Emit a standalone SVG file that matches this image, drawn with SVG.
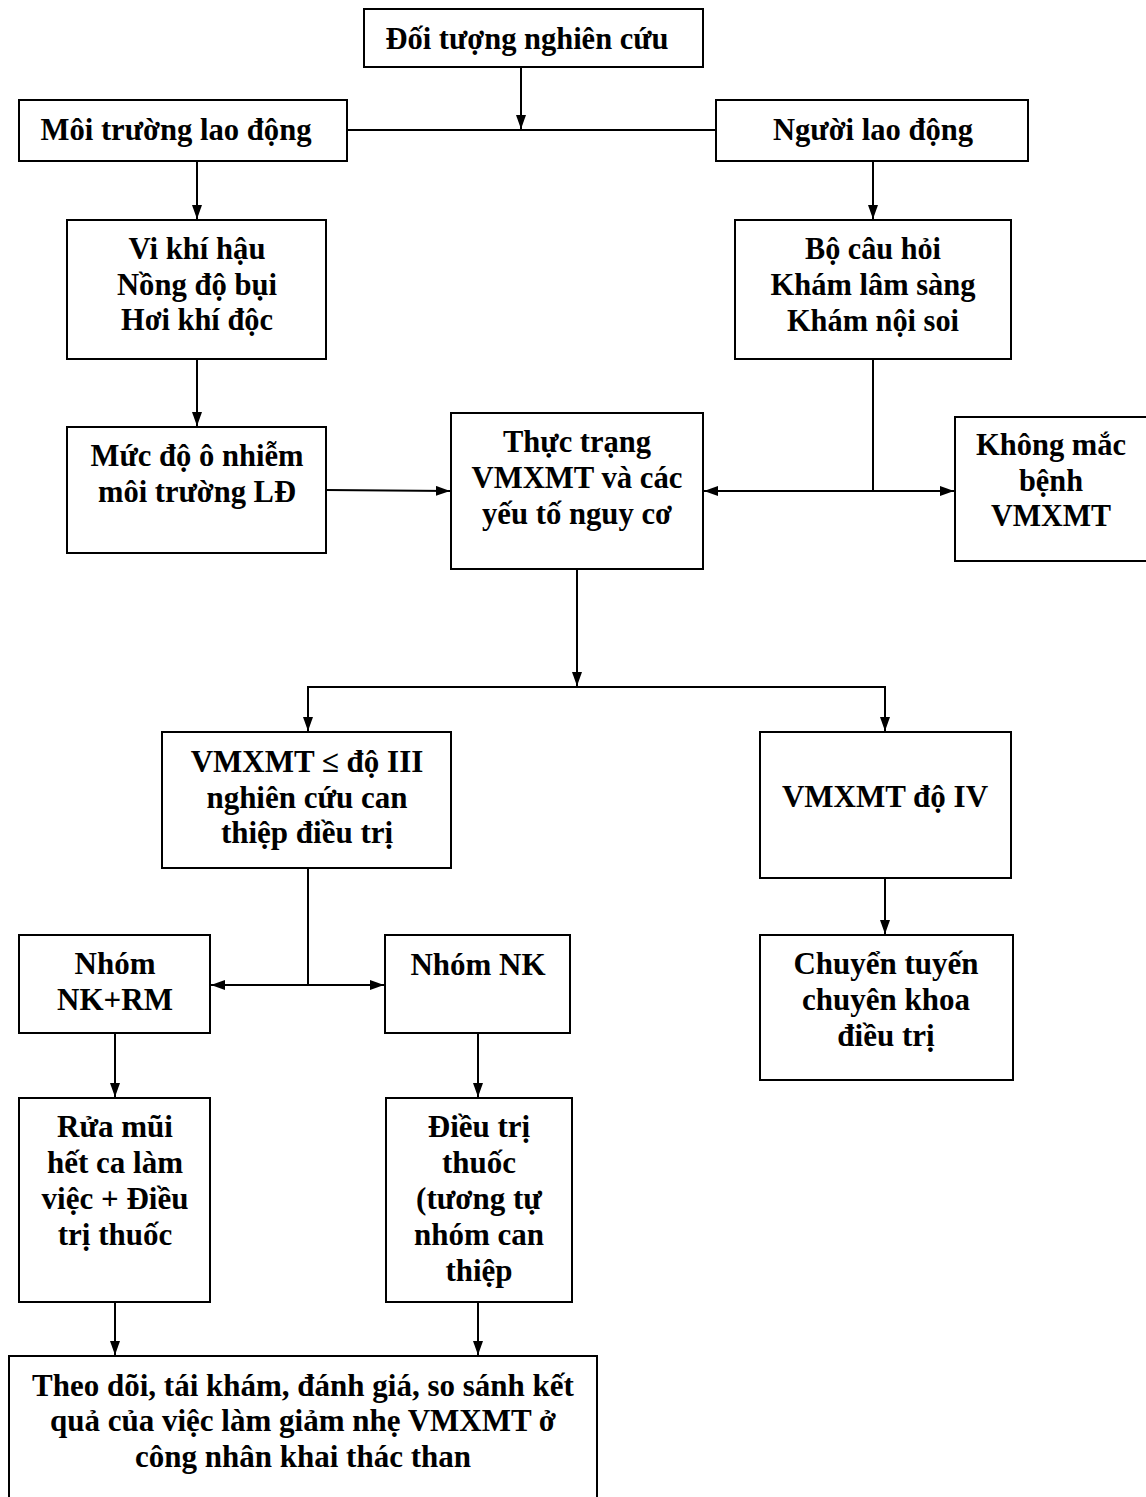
<svg xmlns="http://www.w3.org/2000/svg" width="1146" height="1497" viewBox="0 0 1146 1497">
<defs>
<marker id="ah" viewBox="0 0 14 10" refX="14" refY="5" markerWidth="14" markerHeight="10" markerUnits="userSpaceOnUse" orient="auto">
<path d="M0,0 L14,5 L0,10 z" fill="#000"/>
</marker>
<style>
rect{fill:#fff;stroke:#000;stroke-width:2}
text{font-family:"Liberation Serif","Times New Roman",serif;font-weight:bold;font-size:31px;text-anchor:middle;fill:#000}
.c{font-size:31px}
#connectors line,#connectors path{stroke:#000;stroke-width:2;fill:none}
</style>
</defs>
<rect x="0" y="0" width="1146" height="1497" style="fill:#fff;stroke:none"/>
<g id="connectors">
<line x1="347" y1="130" x2="716" y2="130"/>
<line x1="521" y1="67" x2="521" y2="129" marker-end="url(#ah)"/>
<line x1="197" y1="161" x2="197" y2="219" marker-end="url(#ah)"/>
<line x1="873" y1="161" x2="873" y2="219" marker-end="url(#ah)"/>
<line x1="197" y1="359" x2="197" y2="426" marker-end="url(#ah)"/>
<line x1="326" y1="490" x2="450" y2="491" marker-end="url(#ah)"/>
<line x1="873" y1="359" x2="873" y2="491"/>
<line x1="873" y1="491" x2="704" y2="491" marker-end="url(#ah)"/>
<line x1="873" y1="491" x2="954" y2="491" marker-end="url(#ah)"/>
<line x1="577" y1="569" x2="577" y2="686" marker-end="url(#ah)"/>
<path d="M308,700 L308,687 L885,687 L885,700"/>
<line x1="308" y1="699" x2="308" y2="731" marker-end="url(#ah)"/>
<line x1="885" y1="699" x2="885" y2="731" marker-end="url(#ah)"/>
<line x1="308" y1="868" x2="308" y2="985"/>
<line x1="308" y1="985" x2="211" y2="985" marker-end="url(#ah)"/>
<line x1="308" y1="985" x2="384" y2="985" marker-end="url(#ah)"/>
<line x1="885" y1="878" x2="885" y2="934" marker-end="url(#ah)"/>
<line x1="115" y1="1033" x2="115" y2="1097" marker-end="url(#ah)"/>
<line x1="478" y1="1033" x2="478" y2="1097" marker-end="url(#ah)"/>
<line x1="115" y1="1302" x2="115" y2="1355" marker-end="url(#ah)"/>
<line x1="478" y1="1302" x2="478" y2="1355" marker-end="url(#ah)"/>
</g>
<g id="n1"><rect x="364" y="9" width="339" height="58"/><text class="c" x="527" y="49" textLength="283" lengthAdjust="spacingAndGlyphs">Đối tượng nghiên cứu</text></g>
<g id="n2"><rect x="19" y="100" width="328" height="61"/><text class="c" x="176" y="140" textLength="271" lengthAdjust="spacingAndGlyphs">Môi trường lao động</text></g>
<g id="n3"><rect x="716" y="100" width="312" height="61"/><text class="c" x="873" y="140" textLength="200" lengthAdjust="spacingAndGlyphs">Người lao động</text></g>
<g id="n4"><rect x="67" y="220" width="259" height="139"/>
<text class="c" x="197" y="259" textLength="137" lengthAdjust="spacingAndGlyphs">Vi khí hậu</text>
<text class="c" x="197" y="295" textLength="160" lengthAdjust="spacingAndGlyphs">Nồng độ bụi</text>
<text class="c" x="197" y="330" textLength="152" lengthAdjust="spacingAndGlyphs">Hơi khí độc</text></g>
<g id="n5"><rect x="735" y="220" width="276" height="139"/>
<text class="c" x="873" y="259" textLength="136" lengthAdjust="spacingAndGlyphs">Bộ câu hỏi</text>
<text class="c" x="873" y="295" textLength="205" lengthAdjust="spacingAndGlyphs">Khám lâm sàng</text>
<text class="c" x="873" y="331" textLength="172" lengthAdjust="spacingAndGlyphs">Khám nội soi</text></g>
<g id="n6"><rect x="67" y="427" width="259" height="126"/>
<text class="c" x="197" y="466" textLength="213" lengthAdjust="spacingAndGlyphs">Mức độ ô nhiễm</text>
<text class="c" x="197" y="502" textLength="198" lengthAdjust="spacingAndGlyphs">môi trường LĐ</text></g>
<g id="n7"><rect x="451" y="413" width="252" height="156"/>
<text class="c" x="577" y="452" textLength="148" lengthAdjust="spacingAndGlyphs">Thực trạng</text>
<text class="c" x="577" y="488" textLength="211" lengthAdjust="spacingAndGlyphs">VMXMT và các</text>
<text class="c" x="577" y="524" textLength="190" lengthAdjust="spacingAndGlyphs">yếu tố nguy cơ</text></g>
<g id="n8"><rect x="955" y="417" width="195" height="144"/>
<text class="c" x="1051" y="455" textLength="150" lengthAdjust="spacingAndGlyphs">Không mắc</text>
<text class="c" x="1051" y="491" textLength="64" lengthAdjust="spacingAndGlyphs">bệnh</text>
<text class="c" x="1051" y="526" textLength="120" lengthAdjust="spacingAndGlyphs">VMXMT</text></g>
<g id="n9"><rect x="162" y="732" width="289" height="136"/>
<text x="307" y="772">VMXMT ≤ độ III</text>
<text x="307" y="808">nghiên cứu can</text>
<text x="307" y="843">thiệp điều trị</text></g>
<g id="n10"><rect x="760" y="732" width="251" height="146"/>
<text x="885" y="807">VMXMT độ IV</text></g>
<g id="n11"><rect x="19" y="935" width="191" height="98"/>
<text x="115" y="974">Nhóm</text>
<text x="115" y="1010">NK+RM</text></g>
<g id="n12"><rect x="385" y="935" width="185" height="98"/>
<text x="478" y="975">Nhóm NK</text></g>
<g id="n13"><rect x="760" y="935" width="253" height="145"/>
<text x="886" y="974">Chuyển tuyến</text>
<text x="886" y="1010">chuyên khoa</text>
<text x="886" y="1046">điều trị</text></g>
<g id="n14"><rect x="19" y="1098" width="191" height="204"/>
<text x="115" y="1137">Rửa mũi</text>
<text x="115" y="1173">hết ca làm</text>
<text x="115" y="1209">việc + Điều</text>
<text x="115" y="1245">trị thuốc</text></g>
<g id="n15"><rect x="386" y="1098" width="186" height="204"/>
<text x="479" y="1137">Điều trị</text>
<text x="479" y="1173">thuốc</text>
<text x="479" y="1209">(tương tự</text>
<text x="479" y="1245">nhóm can</text>
<text x="479" y="1281">thiệp</text></g>
<g id="n16"><rect x="9" y="1356" width="588" height="150"/>
<text x="303" y="1396">Theo dõi, tái khám, đánh giá, so sánh kết</text>
<text x="303" y="1431">quả của việc làm giảm nhẹ VMXMT ở</text>
<text x="303" y="1467">công nhân khai thác than</text></g>
</svg>
